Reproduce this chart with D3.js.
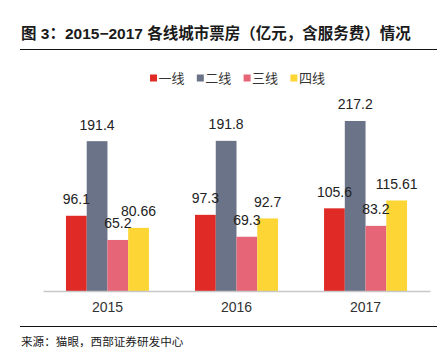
<!DOCTYPE html>
<html>
<head>
<meta charset="utf-8">
<script src="https://cdn.jsdelivr.net/npm/d3@7/dist/d3.min.js"></script>
<style>
  body { margin: 0; background: #fff; }
  svg { display: block; font-family: Arial, "Liberation Sans", "Noto Sans CJK SC", sans-serif; }
</style>
</head>
<body>
<div id="chart"></div>
<script>
var years = ['2015', '2016', '2017'];
var seriesNames = ['一线', '二线', '三线', '四线'];
var tier1 = [96.1, 97.3, 105.6];
var tier2 = [191.4, 191.8, 217.2];
var tier3 = [65.2, 69.3, 83.2];
var tier4 = [80.66, 92.7, 115.61];
var labelText = [
  ['96.1', '97.3', '105.6'],
  ['191.4', '191.8', '217.2'],
  ['65.2', '69.3', '83.2'],
  ['80.66', '92.7', '115.61']
];
var colors = ['#df2a25', '#6a7387', '#e66677', '#fdd535'];

var width = 437, height = 362;
var series = [tier1, tier2, tier3, tier4];

var svg = d3.select('#chart').append('svg')
  .attr('width', width)
  .attr('height', height);

// title + rules
svg.append('text')
  .attr('x', 21)
  .attr('y', 39)
  .attr('font-size', 15.5)
  .attr('font-weight', 'bold')
  .attr('fill', '#1a1a1a')
  .text('图 3：2015−2017 各线城市票房（亿元，含服务费）情况');

svg.append('line')
  .attr('x1', 20).attr('x2', 437)
  .attr('y1', 49.5).attr('y2', 49.5)
  .attr('stroke', '#111').attr('stroke-width', 1.2);

svg.append('line')
  .attr('x1', 20).attr('x2', 437)
  .attr('y1', 326.5).attr('y2', 326.5)
  .attr('stroke', '#111').attr('stroke-width', 1.2);

svg.append('text')
  .attr('x', 21)
  .attr('y', 346)
  .attr('font-size', 11.6)
  .attr('fill', '#1a1a1a')
  .text('来源：猫眼，西部证券研发中心');

// scales
var x0 = d3.scaleBand()
  .domain(years)
  .range([43, 430])
  .paddingInner(0.357)
  .paddingOuter(0.178);

var x1 = d3.scaleBand()
  .domain(d3.range(seriesNames.length))
  .range([0, x0.bandwidth()]);

var y = d3.scaleLinear()
  .domain([0, 250])
  .range([291, 95.3]);

// bars
var groups = svg.selectAll('g.series')
  .data(series)
  .enter().append('g')
    .attr('class', 'series')
    .attr('fill', function(d, i){ return colors[i]; });

groups.each(function(vals, si){
  d3.select(this).selectAll('rect')
    .data(vals)
    .enter().append('rect')
      .attr('x', function(d, i){ return x0(years[i]) + x1(si); })
      .attr('width', x1.bandwidth())
      .attr('y', function(d){ return y(d); })
      .attr('height', function(d){ return y(0) - y(d); });
});

// axis
var axis = svg.append('g')
  .attr('transform', 'translate(0,' + y(0) + ')')
  .call(d3.axisBottom(x0).tickSize(0).tickPadding(11));
axis.select('.domain').attr('stroke', '#c8c8c8').attr('stroke-width', 1.3);
axis.selectAll('text')
  .attr('font-size', 14)
  .attr('fill', '#333')
  .attr('font-family', 'Arial, "Liberation Sans", sans-serif');

// value labels
series.forEach(function(vals, si){
  svg.selectAll(null)
    .data(vals)
    .enter().append('text')
      .attr('x', function(d, i){ return x0(years[i]) + x1(si) + x1.bandwidth() / 2; })
      .attr('y', function(d){ return y(d) - 11.5; })
      .attr('text-anchor', 'middle')
      .attr('font-size', 14)
      .attr('fill', '#222')
      .text(function(d, i){ return labelText[si][i]; });
});

// legend
var legend = svg.append('g')
  .selectAll('g')
  .data(seriesNames)
  .enter().append('g')
    .attr('transform', function(d, i){ return 'translate(' + (150 + i * 46.8) + ',78)'; });

legend.append('rect')
  .attr('x', 0).attr('y', -3.5)
  .attr('width', 7).attr('height', 7)
  .attr('fill', function(d, i){ return colors[i]; });

legend.append('text')
  .attr('x', 8.5)
  .attr('y', 4.5)
  .attr('font-size', 13)
  .attr('fill', '#333')
  .text(function(d){ return d; });
</script>
</body>
</html>
